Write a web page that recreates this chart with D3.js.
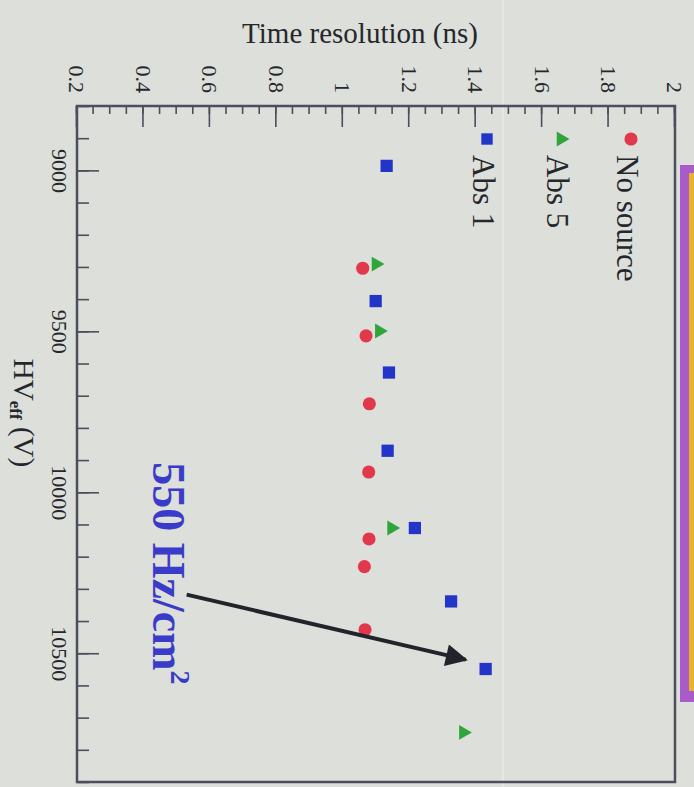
<!DOCTYPE html>
<html>
<head>
<meta charset="utf-8">
<script src="https://cdn.jsdelivr.net/npm/d3@7"></script>
<style>
  body { margin: 0; background: #dcdfda; }
  svg { display: block; }
</style>
</head>
<body>
<div id="chart"></div>
<script>
// HV_eff (V) and time resolution (ns) for each source setting
const hvNoSource = [9304, 9514, 9725, 9937, 10145, 10231, 10427];
const tNoSource  = [1.06, 1.07, 1.08, 1.078, 1.079, 1.065, 1.067];

const hvAbs5 = [9291, 9499, 10111, 10746];
const tAbs5  = [1.10, 1.11, 1.147, 1.363];

const hvAbs1 = [8986, 9406, 9628, 9871, 10111, 10339, 10549];
const tAbs1  = [1.132, 1.099, 1.139, 1.135, 1.217, 1.326, 1.43];

const hvMajorTicks = [9000, 9500, 10000, 10500];
const timeMajorTicks = [0.2, 0.4, 0.6, 0.8, 1, 1.2, 1.4, 1.6, 1.8, 2];

const seriesNames = ["No source", "Abs 5", "Abs 1"];

// annotation: text start and arrow in data units
const noteText = { hv: 9907, t: 0.43 };
const noteArrow = { hv0: 10318, t0: 0.53, hv1: 10520, t1: 1.37 };

const pageW = 694, pageH = 787;
// the whole plot is drawn normally and then turned 90 degrees clockwise
const W = 676, H = 598;

const svg = d3.select("#chart").append("svg")
  .attr("width", pageW)
  .attr("height", pageH);

svg.append("rect").attr("width", pageW).attr("height", pageH).attr("fill", "#dcdfda");

// faint seam of the projected slide
svg.append("line")
  .attr("x1", 503).attr("x2", 503).attr("y1", 0).attr("y2", pageH)
  .attr("stroke", "#e5e7e3").attr("stroke-width", 2);

// purple / orange frame peeking in at the right
svg.append("rect").attr("x", 680).attr("y", 165).attr("width", 30).attr("height", 537).attr("fill", "#a95bc9");
svg.append("rect").attr("x", 689).attr("y", 173).attr("width", 20).attr("height", 518).attr("fill", "#e6b42a");

const g = svg.append("g")
  .attr("transform", "translate(675,106) rotate(90)");

const x = d3.scaleLinear().domain([8800, 10900]).range([0, W]);
const y = d3.scaleLinear().domain([0.2, 2]).range([H, 0]);

const axisColor = "#4b4f5c";
const font = "'Liberation Serif', 'DejaVu Serif', serif";

// HV axis (bottom of the unrotated plot)
g.append("g")
  .attr("transform", `translate(0,${H})`)
  .call(d3.axisBottom(x).tickValues(d3.range(8800, 10901, 100)).tickSize(-12).tickFormat(""))
  .call(a => a.select(".domain").remove());

g.append("g")
  .attr("class", "hvAxis")
  .attr("transform", `translate(0,${H})`)
  .call(d3.axisBottom(x).tickValues(hvMajorTicks).tickSize(-22).tickPadding(9).tickFormat(d3.format("d")))
  .call(a => a.select(".domain").remove());

// time axis (left of the unrotated plot)
g.append("g")
  .call(d3.axisLeft(y).tickValues(d3.range(0.2, 2.001, 0.05)).tickSize(-8).tickFormat(""))
  .call(a => a.select(".domain").remove());

g.append("g")
  .attr("class", "tAxis")
  .call(d3.axisLeft(y).tickValues(timeMajorTicks).tickSize(-21).tickPadding(13).tickFormat(d3.format("~g")))
  .call(a => a.select(".domain").remove());

g.selectAll(".tick line").attr("stroke", axisColor).attr("stroke-width", 1.6);
g.selectAll(".tick text")
  .attr("fill", "#26272c")
  .style("font-family", font)
  .style("font-size", "22px");

// frame
g.append("rect")
  .attr("width", W).attr("height", H)
  .attr("fill", "none")
  .attr("stroke", axisColor)
  .attr("stroke-width", 2.5);

// axis titles
g.append("text")
  .attr("transform", `translate(-73,${675 - 360}) rotate(-90)`)
  .attr("text-anchor", "middle")
  .attr("dominant-baseline", "central")
  .attr("fill", "#26272c")
  .style("font-family", font)
  .style("font-size", "29px")
  .text("Time resolution (ns)");

const hvTitle = g.append("text")
  .attr("x", 413 - 106)
  .attr("y", 675 - 14)
  .attr("text-anchor", "middle")
  .attr("fill", "#26272c")
  .style("font-family", font)
  .style("font-size", "29px");
hvTitle.append("tspan").text("HV");
hvTitle.append("tspan").attr("dy", 4).style("font-size", "17px").style("font-weight", "bold").text("eff");
hvTitle.append("tspan").attr("dy", -4).text(" (V)");

// data points
const sym = (type, size) => d3.symbol().type(type).size(size)();

g.append("g").selectAll("path")
  .data(d3.zip(hvNoSource, tNoSource))
  .join("path")
  .attr("transform", d => `translate(${x(d[0])},${y(d[1])})`)
  .attr("d", sym(d3.symbolCircle, 135))
  .attr("fill", "#e2384c");

g.append("g").selectAll("path")
  .data(d3.zip(hvAbs5, tAbs5))
  .join("path")
  .attr("transform", d => `translate(${x(d[0])},${y(d[1])})`)
  .attr("d", sym(d3.symbolTriangle, 95))
  .attr("fill", "#2fa53c");

g.append("g").selectAll("path")
  .data(d3.zip(hvAbs1, tAbs1))
  .join("path")
  .attr("transform", d => `translate(${x(d[0])},${y(d[1])})`)
  .attr("d", sym(d3.symbolSquare, 150))
  .attr("fill", "#2334c8");

// legend
const legendColors = ["#e2384c", "#2fa53c", "#2334c8"];
const legendTypes = [d3.symbolCircle, d3.symbolTriangle, d3.symbolSquare];
const legendSizes = [135, 95, 130];
const legendY = [44, 114, 188];

const legend = g.append("g");
seriesNames.forEach((name, i) => {
  legend.append("path")
    .attr("transform", `translate(33,${legendY[i]})`)
    .attr("d", sym(legendTypes[i], legendSizes[i]))
    .attr("fill", legendColors[i]);
  legend.append("text")
    .attr("x", 49)
    .attr("y", legendY[i] + 4)
    .attr("dominant-baseline", "central")
    .attr("fill", "#26272c")
    .style("font-family", font)
    .style("font-size", "31px")
    .text(name);
});

// annotation
const defs = svg.append("defs");
defs.append("marker")
  .attr("id", "head")
  .attr("viewBox", "0 0 10 10")
  .attr("refX", 9).attr("refY", 5)
  .attr("markerWidth", 6).attr("markerHeight", 5.5)
  .attr("orient", "auto")
  .append("path")
  .attr("d", "M0,0 L10,5 L0,10 z")
  .attr("fill", "#23242b");

g.append("line")
  .attr("x1", x(noteArrow.hv0)).attr("y1", y(noteArrow.t0))
  .attr("x2", x(noteArrow.hv1)).attr("y2", y(noteArrow.t1))
  .attr("stroke", "#23242b")
  .attr("stroke-width", 4)
  .attr("marker-end", "url(#head)");

const note = g.append("text")
  .attr("x", x(noteText.hv))
  .attr("y", y(noteText.t))
  .attr("fill", "#3b3bc9")
  .style("font-family", font)
  .style("font-weight", "bold")
  .style("font-size", "46px");
note.append("tspan").text("550 Hz/cm");
note.append("tspan").attr("dy", -18).style("font-size", "28px").text("2");
</script>
</body>
</html>
